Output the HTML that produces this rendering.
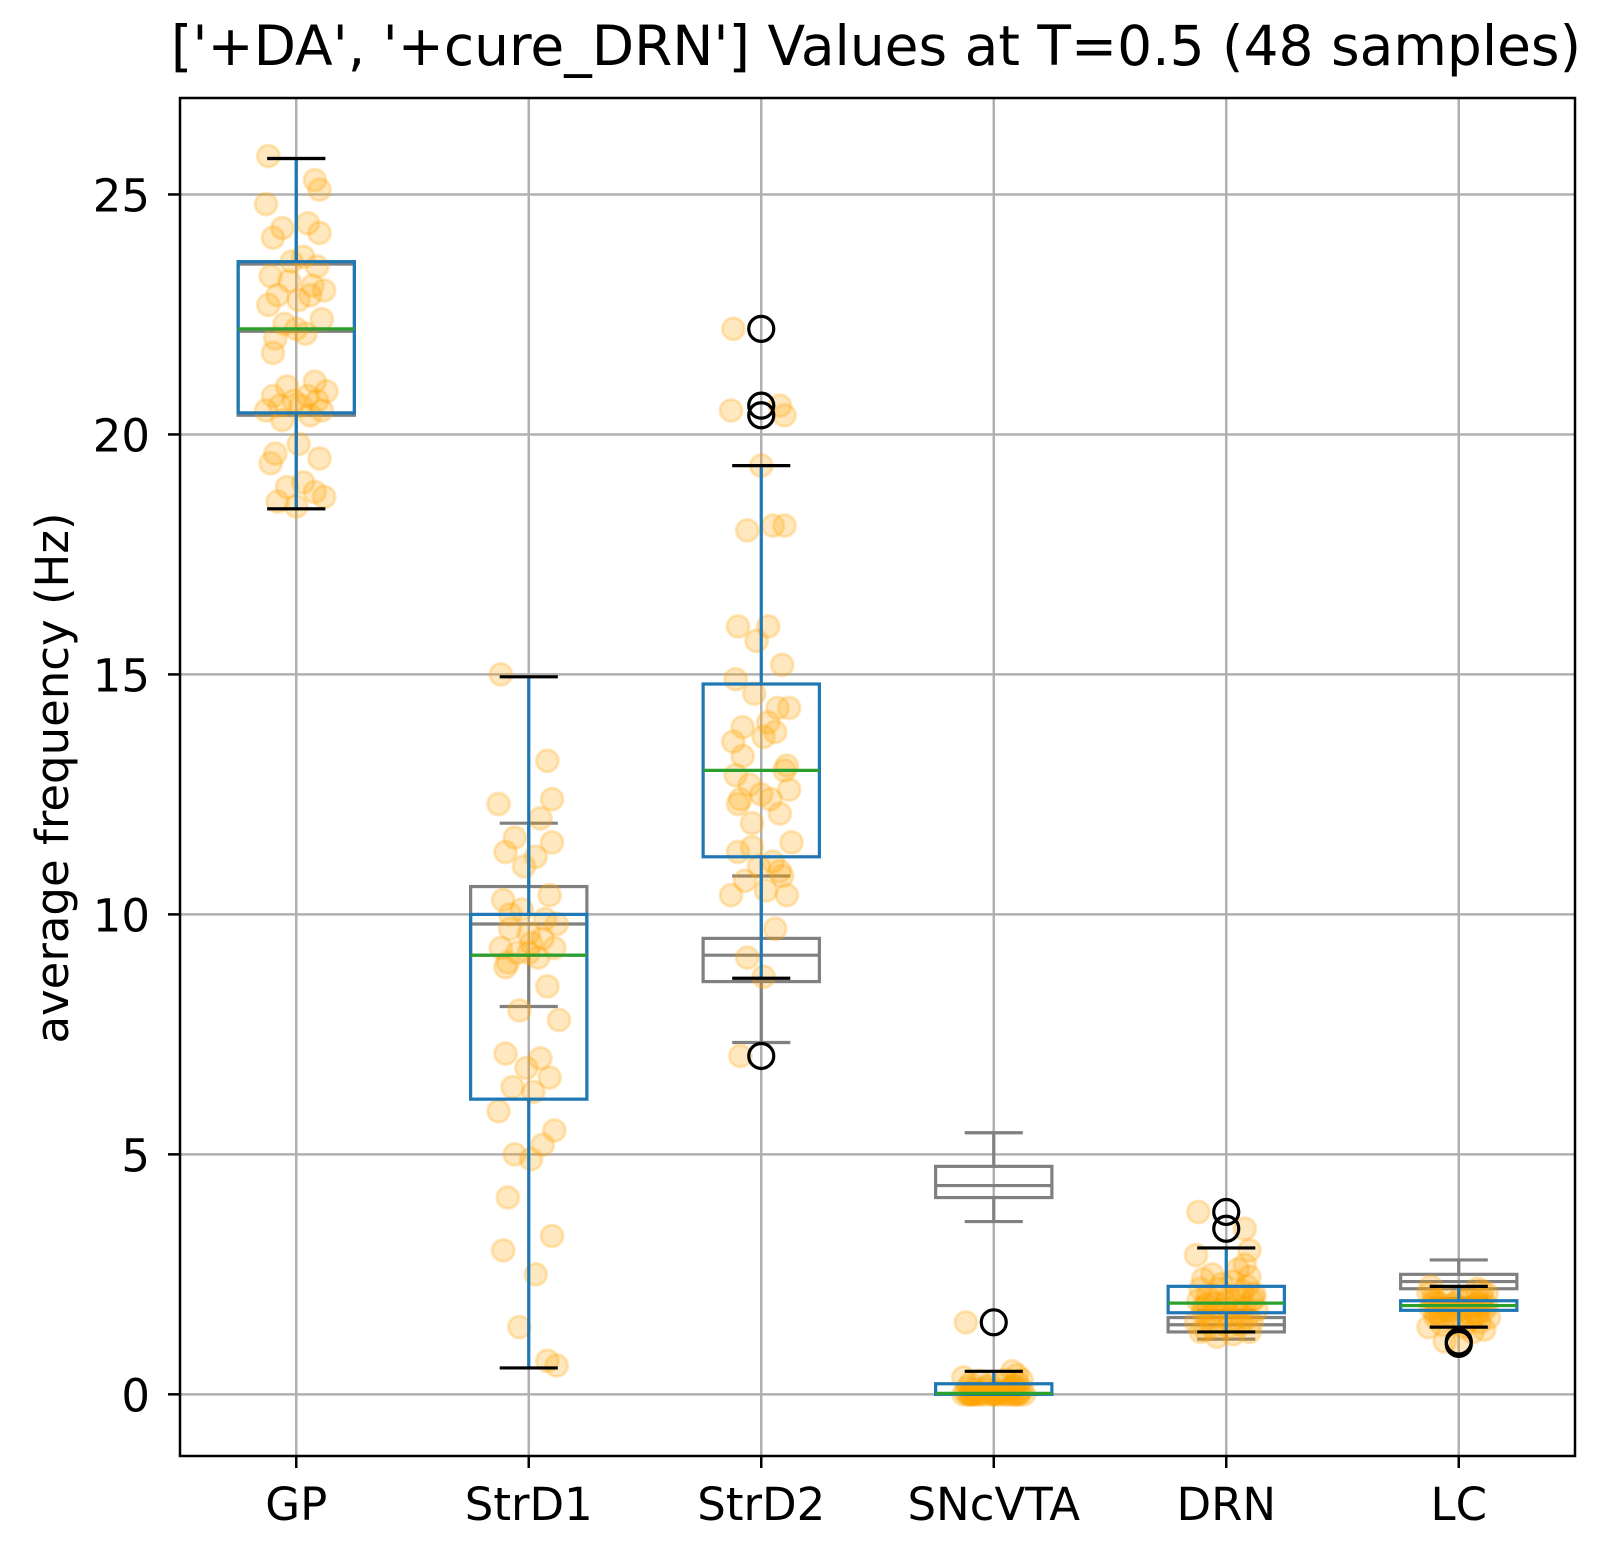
<!DOCTYPE html>
<html><head><meta charset="utf-8"><style>
body{margin:0;background:#fff}
svg text{font-family:"DejaVu Sans","Liberation Sans",sans-serif;fill:#000}
</style></head><body>
<svg id="chart" width="1610" height="1560" viewBox="0 0 1610 1560" xmlns="http://www.w3.org/2000/svg">
<rect width="1610" height="1560" fill="#fff"/>
<g id="grid"></g>
<g id="marks"></g>
<rect x="180" y="98" width="1395" height="1358" fill="none" stroke="#000" stroke-width="2.5"/>
<g id="axes"></g>
<text x="876" y="65" font-size="55" text-anchor="middle">['+DA', '+cure_DRN'] Values at T=0.5 (48 samples)</text>
<text transform="translate(68,778) rotate(-90)" font-size="45" text-anchor="middle">average frequency (Hz)</text>
</svg>
<script>
const categories=["GP","StrD1","StrD2","SNcVTA","DRN","LC"];
const yTicks=[0,5,10,15,20,25];
const blueQ1=[20.45,6.15,11.2,0.0,1.7,1.75];
const blueMed=[22.2,9.15,13.0,0.02,1.9,1.85];
const blueQ3=[23.6,10.0,14.8,0.22,2.25,1.95];
const blueLo=[18.45,0.55,8.67,0.0,1.3,1.4];
const blueHi=[25.75,14.95,19.35,0.48,3.05,2.25];
const grayQ1=[20.4,9.15,8.6,4.1,1.3,2.2];
const grayMed=[22.15,9.8,9.15,4.35,1.45,2.35];
const grayQ3=[23.55,10.58,9.5,4.75,1.6,2.5];
const grayLo=[18.45,8.08,7.33,3.6,1.15,2.0];
const grayHi=[25.75,11.9,10.8,5.45,1.75,2.8];
const fliers=[[],[],[22.2,20.6,20.4,7.05],[1.5],[3.8,3.45],[1.1,1.05]];
const ptsGP=[25.8,25.3,25.1,24.8,24.4,24.3,24.2,24.1,23.7,23.6,23.5,23.3,23.2,23.1,23.0,22.9,22.9,22.8,22.7,22.4,22.3,22.2,22.1,22.0,21.7,21.1,21.0,20.9,20.8,20.8,20.7,20.7,20.6,20.6,20.5,20.5,20.4,20.3,19.8,19.6,19.5,19.4,19.0,18.9,18.8,18.7,18.6,18.5];
const ptsStrD1=[15.0,13.2,12.4,12.3,12.0,11.6,11.5,11.3,11.2,11.0,10.4,10.3,10.1,9.9,9.8,9.7,9.5,9.4,9.3,9.3,9.2,9.2,9.1,9.0,8.9,8.5,8.0,7.8,7.1,7.0,6.8,6.6,6.4,6.3,5.9,5.5,5.2,5.0,4.9,4.1,3.3,3.0,2.5,1.4,0.7,0.6,10.0,9.6];
const ptsStrD2=[22.2,20.6,20.4,20.5,18.1,18.0,18.1,16.0,16.0,15.7,15.2,14.9,14.6,14.3,14.3,13.9,13.8,13.7,13.6,13.1,12.7,12.5,12.4,12.4,12.3,12.1,11.9,11.5,11.3,11.1,11.0,10.8,10.7,10.5,10.4,10.4,9.7,9.1,8.7,7.05,13.0,12.9,14.0,11.4,10.9,12.6,13.3,19.35];
const ptsSNcVTA=[1.5,0.48,0.4,0.35,0.3,0.28,0.25,0.22,0.2,0.2,0.18,0.15,0.15,0.12,0.1,0.1,0.08,0.06,0.05,0.04,0.03,0.02,0.02,0.01,0,0,0,0,0,0,0,0,0,0,0,0,0,0,0,0,0,0,0.05,0.1,0.15,0.3,0.02,0];
const ptsDRN=[3.8,3.45,3.0,2.9,2.6,2.5,2.45,2.4,2.35,2.3,2.25,2.2,2.2,2.15,2.1,2.05,2.0,2.0,1.95,1.95,1.9,1.9,1.85,1.85,1.8,1.8,1.75,1.75,1.7,1.7,1.65,1.6,1.6,1.55,1.5,1.5,1.45,1.4,1.4,1.35,1.3,1.3,1.25,1.2,2.7,2.0,1.9,1.8];
const ptsLC=[2.25,2.2,2.15,2.1,2.05,2.0,2.0,1.95,1.95,1.9,1.9,1.9,1.85,1.85,1.85,1.8,1.8,1.8,1.8,1.75,1.75,1.75,1.7,1.7,1.7,1.65,1.65,1.6,1.6,1.55,1.5,1.5,1.45,1.4,1.4,1.35,1.3,1.1,1.05,1.9,1.85,2.0,1.8,1.75,1.7,2.1,1.6,1.95];
const points=[ptsGP,ptsStrD1,ptsStrD2,ptsSNcVTA,ptsDRN,ptsLC];
const jitter=[-0.12,0.08,0.1,-0.13,0.05,-0.06,0.1,-0.1,0.03,-0.02,0.09,-0.11,-0.03,0.07,0.12,-0.08,0.06,0.01,-0.12,0.11,-0.05,0.0,0.04,-0.09,-0.1,0.08,-0.04,0.13,-0.1,0.05,-0.01,0.09,-0.07,0.02,-0.13,0.11,0.06,-0.06,0.01,-0.09,0.1,-0.11,0.03,-0.04,0.08,0.12,-0.08,0.0];

const NS="http://www.w3.org/2000/svg";
const X0=180,X1=1575,Y0=98,Y1=1456,yMin=-1.285,yMax=27.01;
const xs=i=>X0+(i+1-0.5)/6*(X1-X0);
const ys=v=>Y1-(v-yMin)/(yMax-yMin)*(Y1-Y0);
const pxPerX=(X1-X0)/6;
const LW=3.2;
function mk(tag,attrs,parent){const e=document.createElementNS(NS,tag);for(const k in attrs)e.setAttribute(k,attrs[k]);parent.appendChild(e);return e;}
const grid=document.getElementById('grid'),marks=document.getElementById('marks'),axes=document.getElementById('axes');
yTicks.forEach(t=>{
  const y=ys(t);
  const l=mk('line',{x1:X0,x2:X1,y1:y,y2:y,stroke:'#b0b0b0','stroke-width':2.5},grid);
  
  
  const tk=mk('line',{x1:X0-12,x2:X0,y1:y,y2:y,stroke:'#000','stroke-width':2.5},axes);
  
  
  const tx=mk('text',{x:X0-30,y:y+17,'font-size':45,'text-anchor':'end'},axes);
  tx.textContent=t;
  
  
});
categories.forEach((c,i)=>{
  const x=xs(i);
  const l=mk('line',{x1:x,x2:x,y1:Y0,y2:Y1,stroke:'#b0b0b0','stroke-width':2.5},grid);
  
  
  const tk=mk('line',{x1:x,x2:x,y1:Y1,y2:Y1+12,stroke:'#000','stroke-width':2.5},axes);
  
  
  const tx=mk('text',{x:x,y:Y1+64,'font-size':45,'text-anchor':'middle'},axes);
  tx.textContent=c;
  
  
});
function box(i,q1,med,q3,lo,hi,col,medCol,capCol,name){
  const g=mk('g',{},marks);
  
  
  const x=xs(i),hw=0.25*pxPerX,cw=0.125*pxPerX;
  mk('line',{x1:x,x2:x,y1:ys(q1),y2:ys(lo),stroke:col,'stroke-width':LW},g);
  mk('line',{x1:x,x2:x,y1:ys(q3),y2:ys(hi),stroke:col,'stroke-width':LW},g);
  mk('line',{x1:x-cw,x2:x+cw,y1:ys(lo),y2:ys(lo),stroke:capCol,'stroke-width':LW},g);
  mk('line',{x1:x-cw,x2:x+cw,y1:ys(hi),y2:ys(hi),stroke:capCol,'stroke-width':LW},g);
  mk('rect',{x:x-hw,y:ys(q3),width:2*hw,height:ys(q1)-ys(q3),fill:'none',stroke:col,'stroke-width':LW},g);
  mk('line',{x1:x-hw,x2:x+hw,y1:ys(med),y2:ys(med),stroke:medCol,'stroke-width':LW},g);
}
categories.forEach((c,i)=>box(i,grayQ1[i],grayMed[i],grayQ3[i],grayLo[i],grayHi[i],'#808080','#808080','#808080','reference-box-'+c));
points.forEach((arr,i)=>{
  const g=mk('g',{},marks);
  
  
  arr.forEach((v,k)=>{
    const p=mk('circle',{cx:xs(i)+jitter[k%jitter.length]*pxPerX,cy:ys(v),r:11,fill:'rgba(255,165,0,0.25)',stroke:'rgba(255,165,0,0.25)','stroke-width':3},g);
    
    
  });
});
categories.forEach((c,i)=>box(i,blueQ1[i],blueMed[i],blueQ3[i],blueLo[i],blueHi[i],'#1f77b4','#2ca02c','#000','box-'+c));
fliers.forEach((arr,i)=>arr.forEach(v=>{
  const f=mk('circle',{cx:xs(i),cy:ys(v),r:12.5,fill:'none',stroke:'#000','stroke-width':3.2},marks);
  
  
}));
</script>
</body></html>
